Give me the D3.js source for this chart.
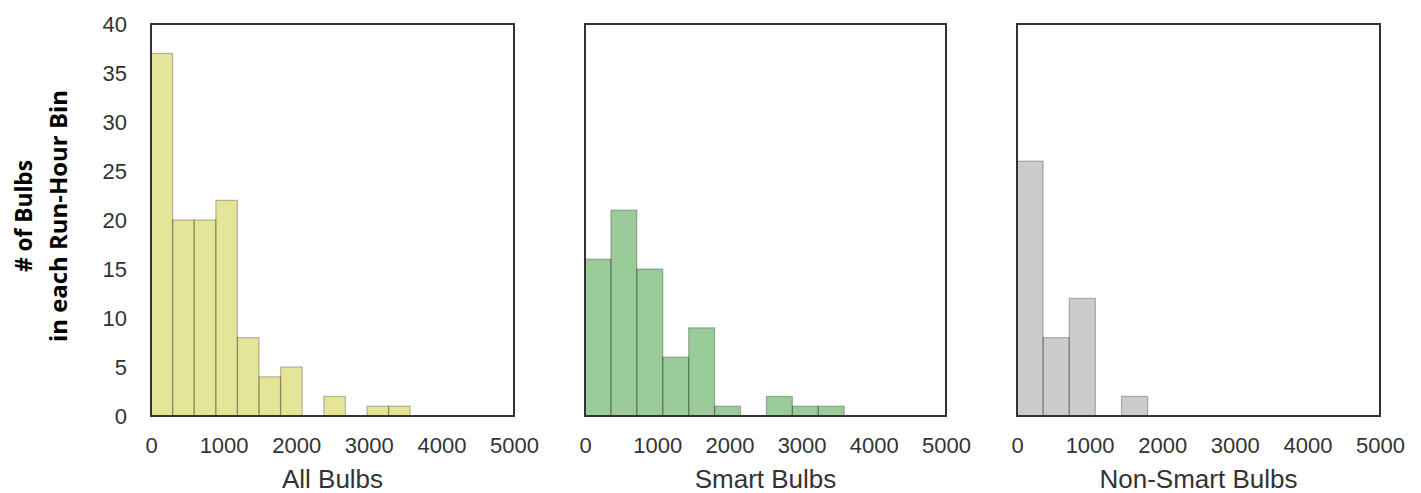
<!DOCTYPE html>
<html>
<head>
<meta charset="utf-8">
<script src="https://cdn.jsdelivr.net/npm/d3@7"></script>
<style>
  body { margin: 0; background: #fff; }
  text { font-family: "Liberation Sans", Arial, sans-serif; }
</style>
</head>
<body>
<div id="chart"></div>
<script>
// histogram panels, values

var width = 1421,
    height = 493;

// bin edges (run hours) and counts for each panel
var allEdges   = [0, 298, 595, 893, 1190, 1488, 1785, 2083, 2380, 2678, 2975, 3273, 3570];
var allCounts  = [37, 20, 20, 22, 8, 4, 5, 0, 2, 0, 1, 1];

var smartEdges  = [0, 359, 718, 1077, 1436, 1795, 2154, 2513, 2872, 3231, 3590];
var smartCounts = [16, 21, 15, 6, 9, 1, 0, 2, 1, 1];

var nonSmartEdges  = [0, 360, 720, 1080, 1440, 1800];
var nonSmartCounts = [26, 8, 12, 0, 2];

var panelTitles = ["All Bulbs", "Smart Bulbs", "Non-Smart Bulbs"];
var panelColors = ["rgb(191,191,0)", "rgb(0,128,0)", "rgb(128,128,128)"];

var xTicks = [0, 1000, 2000, 3000, 4000, 5000];
var yTicks = [0, 5, 10, 15, 20, 25, 30, 35, 40];

var panels = [
  { edges: allEdges, counts: allCounts, left: 151, right: 514 },
  { edges: smartEdges, counts: smartCounts, left: 585, right: 946 },
  { edges: nonSmartEdges, counts: nonSmartCounts, left: 1017, right: 1380 }
];

// plot area top / bottom (window.top is taken, so other names)
var plotTop = 24, plotBottom = 416;

var svg = d3.select("#chart").append("svg")
    .attr("width", width)
    .attr("height", height);

var y = d3.scaleLinear().domain([0, 40]).range([plotBottom, plotTop]);

panels.forEach(function(p, i) {
  var x = d3.scaleLinear().domain([0, 5000]).range([p.left, p.right]);
  var g = svg.append("g");

  // turn edges + counts into bins
  var bins = p.counts.map(function(c, k) {
    return { x0: p.edges[k], x1: p.edges[k + 1], n: c };
  }).filter(function(d) { return d.n > 0; });

  g.selectAll("rect.bar")
    .data(bins)
    .enter().append("rect")
      .attr("class", "bar")
      .attr("x", function(d) { return x(d.x0); })
      .attr("width", function(d) { return x(d.x1) - x(d.x0); })
      .attr("y", function(d) { return y(d.n); })
      .attr("height", function(d) { return y(0) - y(d.n); })
      .style("fill", panelColors[i])
      .style("fill-opacity", 0.4)
      .style("stroke", "rgba(0,0,0,0.25)")
      .style("stroke-width", 1.3);

  // frame
  g.append("rect")
    .attr("x", p.left)
    .attr("y", plotTop)
    .attr("width", p.right - p.left)
    .attr("height", plotBottom - plotTop)
    .style("fill", "none")
    .style("stroke", "#333")
    .style("stroke-width", 2);

  var xAxis = g.append("g")
    .attr("transform", "translate(0," + plotBottom + ")")
    .call(d3.axisBottom(x).tickValues(xTicks).tickSize(0).tickPadding(21).tickFormat(d3.format("d")));
  xAxis.select(".domain").remove();
  xAxis.selectAll("text")
    .style("font-size", "22px")
    .style("font-family", "'Liberation Sans', Arial, sans-serif")
    .style("fill", "#333");

  if (i == 0) {
    var yAxis = g.append("g")
      .attr("transform", "translate(" + p.left + ",0)")
      .call(d3.axisLeft(y).tickValues(yTicks).tickSize(0).tickPadding(24));
    yAxis.select(".domain").remove();
    yAxis.selectAll("text")
      .style("font-size", "22px")
      .style("font-family", "'Liberation Sans', Arial, sans-serif")
      .style("fill", "#333");
  }

  g.append("text")
    .attr("x", (p.left + p.right) / 2)
    .attr("y", 488)
    .attr("text-anchor", "middle")
    .style("font-size", "26px")
    .style("fill", "#333")
    .text(panelTitles[i]);
});

// y axis label, two lines, rotated
var ylab = svg.append("g")
  .attr("transform", "translate(0,216) rotate(-90)");

ylab.append("text")
  .attr("x", 0)
  .attr("y", 32)
  .attr("text-anchor", "middle")
  .attr("textLength", 112)
  .attr("lengthAdjust", "spacingAndGlyphs")
  .style("font-family", "'Open Sans', sans-serif")
  .style("font-weight", "bold")
  .style("font-size", "24px")
  .style("fill", "#000")
  .text("# of Bulbs");

ylab.append("text")
  .attr("x", 0)
  .attr("y", 67)
  .attr("text-anchor", "middle")
  .attr("textLength", 252)
  .attr("lengthAdjust", "spacingAndGlyphs")
  .style("font-family", "'Open Sans', sans-serif")
  .style("font-weight", "bold")
  .style("font-size", "24px")
  .style("fill", "#000")
  .text("in each Run-Hour Bin");
</script>
</body>
</html>
